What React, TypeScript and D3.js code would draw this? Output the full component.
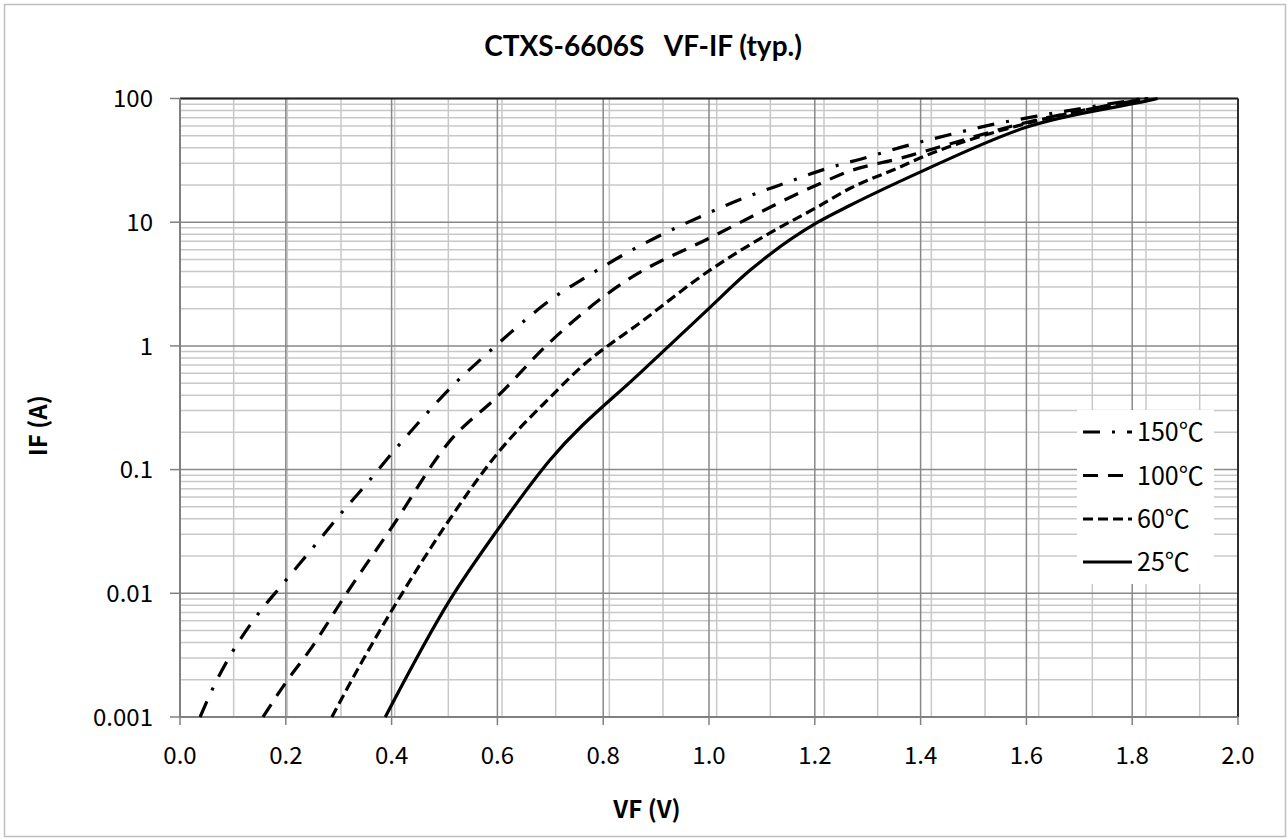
import * as d3 from "d3";

// VF (V) / IF (A) readings per temperature
const vf150 = [0.038, 0.059, 0.098, 0.143, 0.195, 0.25, 0.3, 0.353, 0.407, 0.46, 0.516, 0.577, 0.637, 0.703, 0.772, 0.843, 0.915, 0.99, 1.066, 1.144, 1.221, 1.3, 1.378, 1.459, 1.539, 1.62, 1.82];
const if150 = [0.001, 0.0016, 0.0033, 0.0064, 0.012, 0.023, 0.042, 0.077, 0.146, 0.265, 0.48, 0.84, 1.42, 2.4, 3.7, 5.6, 8.1, 11.4, 15.7, 20.7, 27, 33.6, 42, 51.5, 62, 72, 100];

const vf100 = [0.157, 0.2, 0.246, 0.315, 0.4, 0.51, 0.6, 0.7, 0.845, 1.0, 1.204, 1.267, 1.361, 1.399, 1.6, 1.83];
const if100 = [0.001, 0.0019, 0.0035, 0.01, 0.034, 0.17, 0.39, 1.08, 3.4, 7.4, 20, 26, 32.8, 36.5, 64, 100];

const vf60 = [0.287, 0.346, 0.42, 0.505, 0.6, 0.7, 0.756, 0.875, 0.996, 1.109, 1.204, 1.267, 1.361, 1.399, 1.601, 1.83];
const if60 = [0.001, 0.0029, 0.01, 0.037, 0.135, 0.385, 0.66, 1.6, 3.94, 7.9, 13.2, 18.8, 27.9, 33, 63, 100];

const vf25 = [0.388, 0.51, 0.599, 0.699, 0.875, 0.996, 1.078, 1.204, 1.267, 1.399, 1.601, 1.834, 1.848];
const if25 = [0.001, 0.0088, 0.032, 0.119, 0.635, 1.94, 4.1, 9.9, 13.7, 25.4, 58.8, 97, 100];

const seriesNames = ["150℃", "100℃", "60℃", "25℃"];
const xTicks = [0, 0.2, 0.4, 0.6, 0.8, 1.0, 1.2, 1.4, 1.6, 1.8, 2.0];
const yTicks = [0.001, 0.01, 0.1, 1, 10, 100];
const yTickLabels = ["0.001", "0.01", "0.1", "1", "10", "100"];

const W = 1287;
const H = 840;
const x = d3.scaleLinear().domain([0, 2]).range([180, 1238]);
const y = d3.scaleLog().domain([0.001, 100]).range([717, 98.5]);

// Excel draws the minor vertical grid on a slightly wider pitch than the majors
const minorStepX = 0.10145;
const xMinor = d3.range(1, 20).map((k) => k * minorStepX).filter((v) => v < 2);
const yMinor = d3.range(-3, 2).flatMap((e) => d3.range(2, 10).map((m) => m * 10 ** e));

const dashes = ["17,12,3,12", "15,10", "10,5", ""];
const series = [
  { vf: vf150, iF: if150 },
  { vf: vf100, iF: if100 },
  { vf: vf60, iF: if60 },
  { vf: vf25, iF: if25 },
];

const line = d3
  .line<[number, number]>()
  .x((d) => x(d[0]))
  .y((d) => y(d[1]))
  .curve(d3.curveMonotoneX);

const tickFont = "'Noto Sans CJK JP', 'Noto Sans', sans-serif";
const majorGrid = "#888888";
const minorGrid = "#c8c8c8";

export default function App() {
  const [x0, x1] = x.range();
  const [y0, y1] = y.range();
  const legendX = 1077;
  const legendRows = [432, 475.5, 519, 562];

  return (
    <svg
      width={W}
      height={H}
      viewBox={`0 0 ${W} ${H}`}
      style={{ position: "fixed", left: 0, top: 0, background: "#fff" }}
    >
      <rect x={0} y={0} width={W} height={H} fill="#fff" />
      <rect x={4.5} y={4.5} width={1281} height={832} fill="none" stroke="#bfbfbf" strokeWidth={1.5} />

      <text
        x={643}
        y={56}
        textAnchor="middle"
        fontFamily="Lato, 'Open Sans', sans-serif"
        fontWeight="bold"
        fontSize={28}
        style={{ whiteSpace: "pre" }}
      >
        {"CTXS-6606S   VF-IF (typ.)"}
      </text>

      {/* grid */}
      <g>
        {yMinor.map((v) => (
          <line key={"ym" + v} x1={x0} x2={x1} y1={y(v)} y2={y(v)} stroke={minorGrid} strokeWidth={1.5} />
        ))}
        {xMinor.map((v) => (
          <line key={"xm" + v} x1={x(v)} x2={x(v)} y1={y0} y2={y1} stroke={minorGrid} strokeWidth={1.5} />
        ))}
        {yTicks.map((v) => (
          <line key={"yM" + v} x1={x0} x2={x1} y1={y(v)} y2={y(v)} stroke={majorGrid} strokeWidth={1.5} />
        ))}
        {xTicks.map((v) => (
          <line key={"xM" + v} x1={x(v)} x2={x(v)} y1={y0} y2={y1} stroke={majorGrid} strokeWidth={1.5} />
        ))}
      </g>

      {/* plot border: dark top/right, grey axes */}
      <line x1={x0} x2={x1} y1={y1} y2={y1} stroke="#222" strokeWidth={1.8} />
      <line x1={x1} x2={x1} y1={y1} y2={y0} stroke="#222" strokeWidth={1.8} />
      <line x1={x0} x2={x0} y1={y1} y2={y0} stroke="#808080" strokeWidth={2} />
      <line x1={x0} x2={x1} y1={y0} y2={y0} stroke="#808080" strokeWidth={2} />

      {/* y axis ticks + labels */}
      {yTicks.map((v, i) => (
        <g key={"yt" + v}>
          <line x1={x0 - 10} x2={x0} y1={y(v)} y2={y(v)} stroke="#808080" strokeWidth={1.5} />
          <text
            x={x0 - 27}
            y={y(v)}
            dy="0.36em"
            textAnchor="end"
            fontFamily={tickFont}
            fontSize={24}
          >
            {yTickLabels[i]}
          </text>
        </g>
      ))}

      {/* x axis ticks + labels */}
      {xTicks.map((v) => (
        <g key={"xt" + v}>
          <line x1={x(v)} x2={x(v)} y1={y0} y2={y0 + 8} stroke="#808080" strokeWidth={1.5} />
          <text x={x(v)} y={y0 + 38} dy="0.36em" textAnchor="middle" fontFamily={tickFont} fontSize={24}>
            {v.toFixed(1)}
          </text>
        </g>
      ))}

      <text x={647} y={809} dy="0.36em" textAnchor="middle" fontFamily={tickFont} fontWeight="bold" fontSize={24}>
        VF (V)
      </text>
      <text
        transform={`translate(38,${(y0 + y1) / 2 + 18}) rotate(-90)`}
        dy="0.36em"
        textAnchor="middle"
        fontFamily={tickFont}
        fontWeight="bold"
        fontSize={24}
      >
        IF (A)
      </text>

      {/* curves */}
      {series.map((s, i) => (
        <path
          key={"s" + i}
          d={line(s.vf.map((v, j) => [v, s.iF[j]] as [number, number])) ?? ""}
          fill="none"
          stroke="#000"
          strokeWidth={3.2}
          strokeDasharray={dashes[i] || undefined}
        />
      ))}

      {/* legend */}
      <rect x={legendX} y={410} width={137} height={174} fill="#fff" />
      {seriesNames.map((name, i) => (
        <g key={"lg" + name}>
          <line
            x1={1083}
            x2={1132}
            y1={legendRows[i]}
            y2={legendRows[i]}
            stroke="#000"
            strokeWidth={3.2}
            strokeDasharray={dashes[i] || undefined}
          />
          <text x={1137} y={legendRows[i]} dy="0.36em" fontFamily={tickFont} fontSize={25}>
            {name}
          </text>
        </g>
      ))}
    </svg>
  );
}
